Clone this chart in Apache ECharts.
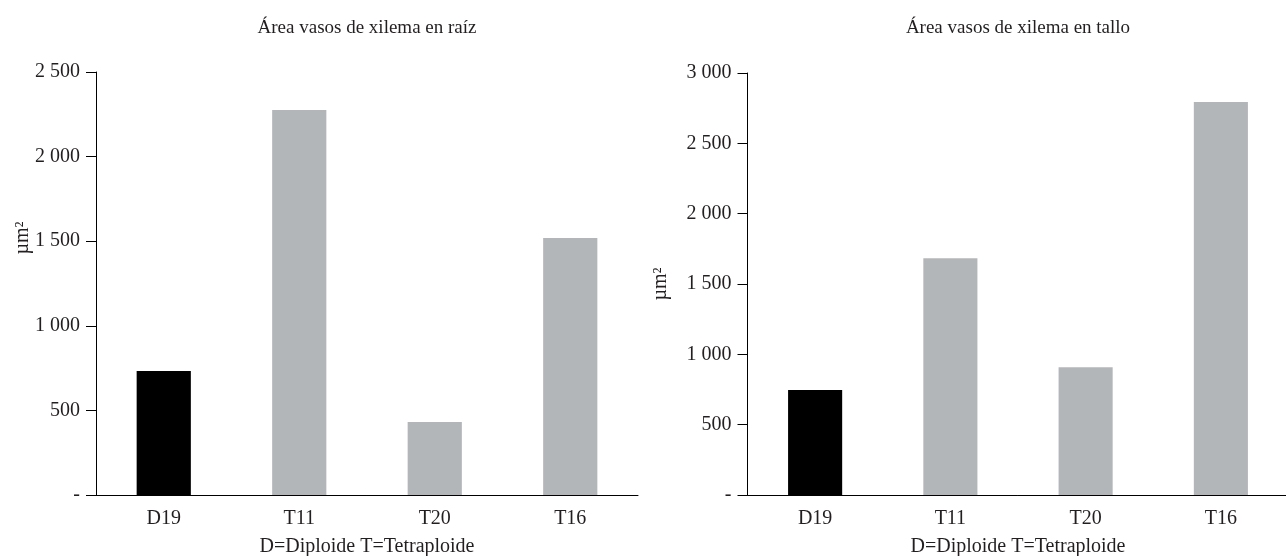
<!DOCTYPE html>
<html>
<head>
<meta charset="utf-8">
<script src="https://cdn.jsdelivr.net/npm/echarts@6/dist/echarts.min.js"></script>
<style>
html,body{margin:0;padding:0;background:#fff;}
#chart{width:1286px;height:556px;}
</style>
</head>
<body>
<div id="chart"></div>
<script>
var categories = ['D19', 'T11', 'T20', 'T16'];
var raizValues = [733, 2275, 431, 1519];
var talloValues = [747, 1683, 908, 2793];
var barColors = ['#000000', '#b3b6b9', '#b3b6b9', '#b3b6b9'];
var titleRaiz = 'Área vasos de xilema en raíz';
var titleTallo = 'Área vasos de xilema en tallo';
var xAxisName = 'D=Diploide T=Tetraploide';
var yAxisName = 'µm²';

var FONT = '"Liberation Serif", "Times New Roman", serif';
var TXT = '#231f20';

function fmt(v) {
  if (v === 0) return '-';
  var s = String(v);
  if (v >= 1000) s = s.slice(0, s.length - 3) + ' ' + s.slice(s.length - 3);
  return s;
}

function mkData(vals) {
  return vals.map(function (v, i) {
    return { value: v, itemStyle: { color: barColors[i] } };
  });
}

function yAx(idx, max) {
  return {
    type: 'value', gridIndex: idx, min: 0, max: max, interval: 500,
    splitLine: { show: false },
    axisLine: { show: true, lineStyle: { color: '#000', width: 1 } },
    axisTick: { show: true, length: 10, lineStyle: { color: '#000', width: 1 } },
    axisLabel: { formatter: fmt, color: TXT, fontFamily: FONT, fontSize: 20, margin: 16 }
  };
}

function xAx(idx) {
  return {
    type: 'category', gridIndex: idx, data: categories,
    axisLine: { show: true, lineStyle: { color: '#000', width: 1 } },
    axisTick: { show: false },
    axisLabel: { color: TXT, fontFamily: FONT, fontSize: 20, margin: 14 },
    name: xAxisName, nameLocation: 'middle', nameGap: 42,
    nameTextStyle: { color: TXT, fontFamily: FONT, fontSize: 20 }
  };
}

var chart = echarts.init(document.getElementById('chart'));
chart.setOption({
  animation: false,
  backgroundColor: '#fff',
  title: [
    { text: titleRaiz, left: 362, top: 14, textAlign: 'center',
      textStyle: { color: TXT, fontFamily: FONT, fontSize: 19, fontWeight: 'normal' } },
    { text: titleTallo, left: 1013, top: 14, textAlign: 'center',
      textStyle: { color: TXT, fontFamily: FONT, fontSize: 19, fontWeight: 'normal' } }
  ],
  grid: [
    { left: 96, top: 72, width: 542, height: 423, outerBoundsMode: 'none', containLabel: false },
    { left: 747.5, top: 73, width: 541, height: 422, outerBoundsMode: 'none', containLabel: false }
  ],
  xAxis: [xAx(0), xAx(1)],
  yAxis: [yAx(0, 2500), yAx(1, 3000)],
  series: [
    { type: 'bar', xAxisIndex: 0, yAxisIndex: 0, barWidth: '40%', data: mkData(raizValues) },
    { type: 'bar', xAxisIndex: 1, yAxisIndex: 1, barWidth: '40%', data: mkData(talloValues) }
  ],
  graphic: [
    { type: 'text', x: 23, y: 238, rotation: Math.PI / 2,
      style: { text: yAxisName, fill: TXT, font: '20px ' + FONT, textAlign: 'center', textVerticalAlign: 'middle' } },
    { type: 'text', x: 661, y: 284, rotation: Math.PI / 2,
      style: { text: yAxisName, fill: TXT, font: '20px ' + FONT, textAlign: 'center', textVerticalAlign: 'middle' } }
  ]
});
</script>
</body>
</html>
